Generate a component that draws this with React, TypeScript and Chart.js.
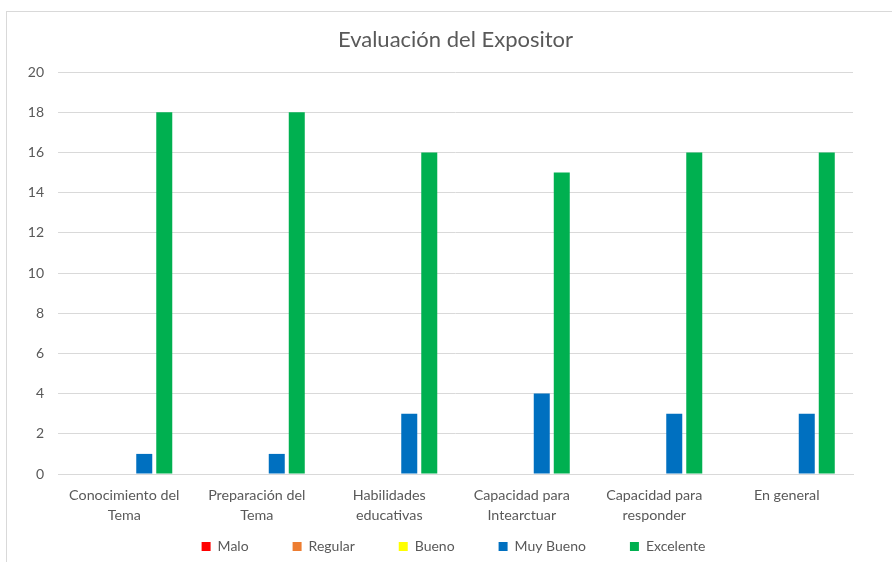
import React, { useEffect, useRef } from "react";
import { Chart, registerables } from "chart.js";

Chart.register(...registerables);

const categories: string[][] = [
  ["Conocimiento del", "Tema"],
  ["Preparación del", "Tema"],
  ["Habilidades", "educativas"],
  ["Capacidad para", "Intearctuar"],
  ["Capacidad para", "responder"],
  ["En general"],
];
const malo = [0, 0, 0, 0, 0, 0];
const regular = [0, 0, 0, 0, 0, 0];
const bueno = [0, 0, 0, 0, 0, 0];
const muyBueno = [1, 1, 3, 4, 3, 3];
const excelente = [18, 18, 16, 15, 16, 16];
const seriesNames = ["Malo", "Regular", "Bueno", "Muy Bueno", "Excelente"];
const seriesColors = ["#FF0000", "#ED7D31", "#FFFF00", "#0070C0", "#00B050"];

const FONT = "Lato, 'Open Sans', sans-serif";
const TEXT = "#595959";

const boxFix = {
  id: "boxFix",
  afterInit(chart: any) {
    const lg = chart.legend;
    if (lg && !lg.__patched) {
      const orig = lg.fit;
      lg.fit = function () {
        orig.call(this);
        this.height = 36;
      };
      lg.draw = function () {
        if (!this.options.display) return;
        const ctx = this.ctx;
        ctx.save();
        ctx.translate(27, -30.5);
        this._draw();
        ctx.restore();
      };
      lg.__patched = true;
    }
    const tb = chart.titleBlock;
    if (tb && !tb.__patched) {
      const origDraw = tb.draw;
      tb.draw = function () {
        const ctx = this.ctx;
        ctx.save();
        ctx.translate(29, 0);
        origDraw.call(this);
        ctx.restore();
      };
      tb.__patched = true;
    }
  },
};

export default function App() {
  const ref = useRef<HTMLCanvasElement | null>(null);
  useEffect(() => {
    if (!ref.current) return;
    const values = [malo, regular, bueno, muyBueno, excelente];
    const chart = new Chart(ref.current, {
      type: "bar",
      data: {
        labels: categories,
        datasets: seriesNames.map((n, i) => ({
          label: n,
          data: values[i],
          backgroundColor: seriesColors[i],
          borderWidth: 0,
          categoryPercentage: 0.755,
          barPercentage: 0.8,
        })),
      },
      plugins: [boxFix],
      options: {
        responsive: false,
        animation: false,
        layout: { padding: { left: 0, right: 39, top: 0, bottom: 0 } },
        plugins: {
          title: {
            display: true,
            text: "Evaluación del Expositor",
            color: TEXT,
            font: { family: FONT, size: 22, weight: "normal", lineHeight: 1.2 },
            padding: { top: 27, bottom: 18.6 },
          },
          legend: {
            position: "bottom",
            labels: {
              boxWidth: 9,
              boxHeight: 9,
              padding: 44,
              color: TEXT,
              font: { family: FONT, size: 14 },
            },
          },
          tooltip: { enabled: false },
        },
        scales: {
          x: {
            grid: { display: false, drawTicks: false },
            border: { display: true, color: "#d9d9d9", width: 1 },
            ticks: {
              color: TEXT,
              font: { family: FONT, size: 14.3, lineHeight: 1.4 },
              padding: 11,
              maxRotation: 0,
              autoSkip: false,
            },
            afterFit: (s: any) => {
              s.height = 52;
            },
          },
          y: {
            min: 0,
            max: 20,
            grid: { color: "#d9d9d9", drawTicks: false },
            border: { display: false },
            ticks: {
              stepSize: 2,
              color: TEXT,
              font: { family: FONT, size: 14 },
              padding: 14,
            },
            afterFit: (s: any) => {
              s.width = 58;
            },
          },
        },
      },
    });
    return () => chart.destroy();
  }, []);
  return (
    <div
      style={{
        position: "absolute",
        left: 0,
        top: 0,
        width: 892,
        height: 562,
        overflow: "hidden",
        background: "#fff",
      }}
    >
      <div
        style={{
          position: "absolute",
          left: 6,
          top: 11,
          width: 900,
          height: 600,
          border: "1px solid #d9d9d9",
        }}
      />
      <canvas
        ref={ref}
        width={892}
        height={562}
        style={{ position: "absolute", left: 0, top: 0, width: 892, height: 562 }}
      />
    </div>
  );
}
